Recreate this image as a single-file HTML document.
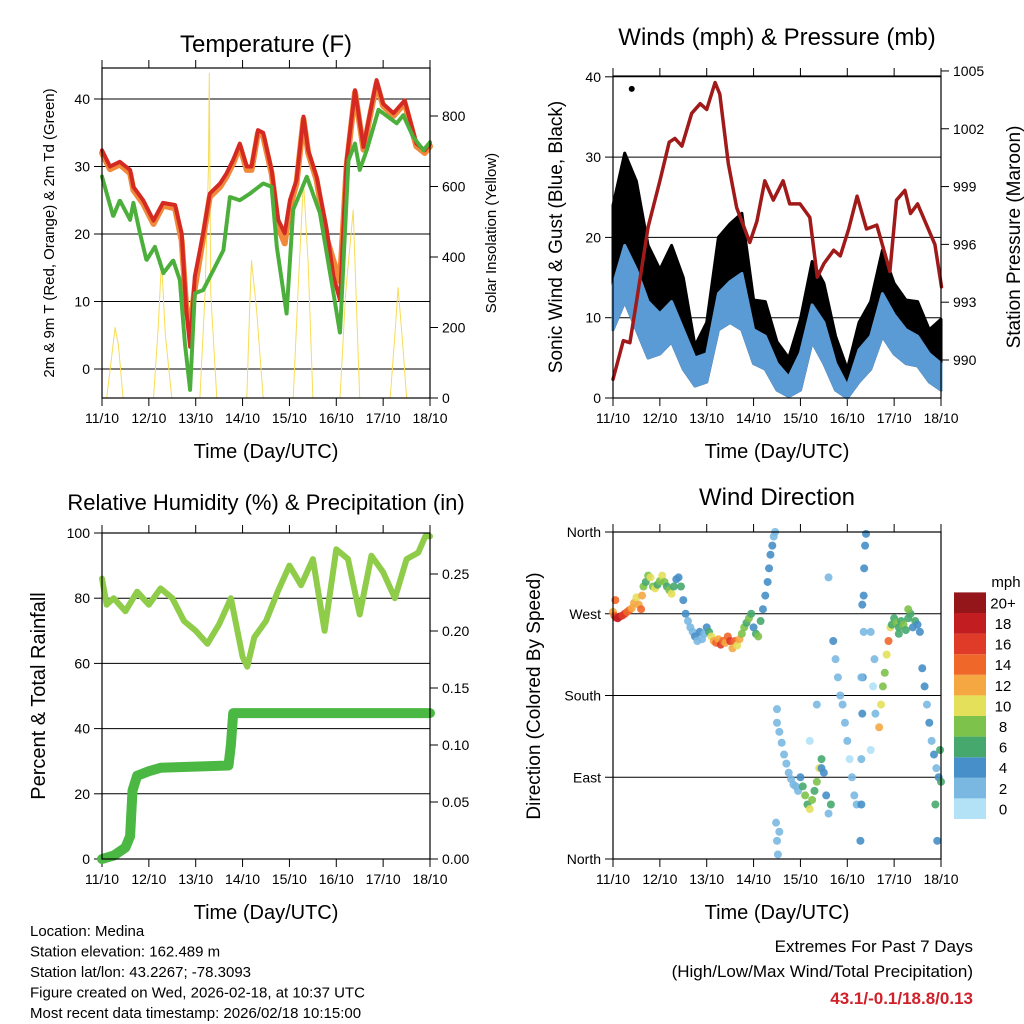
<!DOCTYPE html>
<html><head><meta charset="utf-8"><style>
body{margin:0;background:#fff}
svg{display:block;font-family:"Liberation Sans",sans-serif}
</style></head><body>
<svg id="s" width="1024" height="1024" viewBox="0 0 1024 1024" xmlns="http://www.w3.org/2000/svg"></svg>
<script>
// ---------- DATA ----------
const dayLabels=["11/10","12/10","13/10","14/10","15/10","16/10","17/10","18/10"];
const tempT=[0,0.17,0.38,0.6,0.67,0.88,1.1,1.3,1.56,1.7,1.8,1.88,1.98,2.16,2.3,2.52,2.66,2.8,2.94,3.09,3.19,3.33,3.44,3.62,3.76,3.9,4.01,4.15,4.3,4.4,4.58,4.79,4.94,5.08,5.22,5.4,5.58,5.72,5.86,6.0,6.22,6.46,6.71,6.89,7];
const redV=[32.4,30,30.7,29.5,27,25,22,24.6,24.3,20.1,8.7,3.3,13.7,20.1,26,27.5,29,31,33.4,30,30,35.4,35,29.5,22.1,20.1,25,28,37.4,32.4,28.5,21,13.7,10.2,30.9,41.3,32.9,37.9,42.8,39.3,37.9,39.8,33.4,32.4,33.4];
const orangeV=[32,29.6,30.3,29,26.5,24.5,21.5,24.2,23.8,19,9,6,12,19.5,25.5,27,28.5,30.5,33,29.5,29.5,35,34.5,29,21,18.6,24,27.5,37,32,28,19.5,16,13,30,41,32.5,37.5,42.3,39,37.5,39.4,33,32,33];
const dewT=[0,0.24,0.38,0.6,0.67,0.81,0.95,1.13,1.31,1.52,1.66,1.77,1.88,1.98,2.16,2.38,2.59,2.73,2.94,3.16,3.44,3.62,3.73,3.94,4.08,4.37,4.65,4.94,5.08,5.26,5.4,5.5,5.65,5.9,6.29,6.43,6.64,6.86,7];
const dewV=[28.5,22.6,25,22.1,24.6,20.1,16.1,18.1,14.2,16.1,13.2,3.8,-3.1,11.2,11.7,14.7,17.6,25.5,25,26,27.5,27,18.1,8.2,23.6,28.5,23.1,11.2,5.3,30.9,33.4,29.5,32.4,38.4,36.4,37.6,34.4,32.4,33.6];
const solarT=[0,0.1,0.2,0.28,0.35,0.45,1.1,1.2,1.27,1.35,1.49,2.09,2.2,2.27,2.29,2.32,2.45,3.09,3.15,3.19,3.3,3.44,4.08,4.2,4.3,4.4,4.5,5.08,5.2,5.36,5.42,5.5,6.15,6.25,6.32,6.42,6.5,7];
const solarV=[0,0,110,200,150,0,0,200,390,180,0,0,300,650,921,300,0,0,250,390,250,0,0,350,615,380,0,0,300,533,300,0,0,180,313,150,0,0];
const windT=[0,0.25,0.5,0.75,1.0,1.25,1.5,1.75,2.0,2.25,2.5,2.75,3.0,3.25,3.5,3.75,4.0,4.25,4.5,4.75,5.0,5.25,5.5,5.75,6.0,6.25,6.5,6.75,7];
const gustHi=[24,30.5,27,19,16,19,15,6.5,9.4,20,21.7,23,12.2,12,7,5,9.8,17,14.3,7.7,3.6,9.4,12,18.4,14.3,12.2,12,8.5,9.8];
const sustHi=[14,19,16,12,10.5,12,8.5,5,5.5,13,14.5,15.5,8.5,7.7,4.3,2.6,5.6,11.6,9.4,4.3,1.5,6,7.7,13,10.4,8.5,7.7,5.5,4.3];
const sustLo=[8.5,12,8.5,5,5.5,7,3.6,1.5,2,8.5,9.4,8.5,4.3,3.6,1,0.2,1,7,4.3,1,0,2,3.6,7.7,5.5,4.3,4,2,1];
const presT=[0,0.22,0.36,0.5,0.75,1.0,1.2,1.32,1.47,1.68,1.86,2.0,2.18,2.28,2.46,2.64,2.92,3.07,3.24,3.42,3.63,3.77,3.99,4.2,4.36,4.5,4.71,4.85,5.03,5.21,5.41,5.63,5.91,6.05,6.23,6.35,6.5,6.87,7.01];
const presV=[989,991,990.9,993,996.9,999.3,1001.3,1001.5,1001.1,1002.8,1003.3,1003,1004.4,1003.8,1000.2,997.9,996.1,997.2,999.3,998.3,999.3,998.1,998.1,997.4,994.3,995,995.7,995.4,996.8,998.5,996.8,997,994.6,998.3,998.8,997.6,998.1,996,993.8];
const rhT=[0,0.1,0.25,0.5,0.75,1.0,1.25,1.5,1.75,2.0,2.25,2.5,2.75,3.0,3.1,3.25,3.5,3.75,4.0,4.25,4.5,4.75,5.0,5.25,5.5,5.75,6.0,6.25,6.5,6.75,6.9,7];
const rhV=[86,78,80,76,82,78,83,80,73,70,66,72,80,62,59,68,73,82,90,84,92,70,95,92,75,93,88,80,92,94,99,99];
const rainT=[0,0.25,0.5,0.6,0.65,0.75,1.0,1.25,2.7,2.75,2.8,7];
const rainV=[0,0.003,0.01,0.02,0.06,0.073,0.077,0.08,0.082,0.1,0.128,0.128];
const dirT=[0,0.03,0.06,0.1,0.15,0.2,0.25,0.3,0.35,0.4,0.45,0.5,0.55,0.6,0.05,
0.65,0.7,0.75,0.8,0.85,0.9,0.95,1.0,1.05,1.1,1.15,1.2,1.25,1.3,1.35,1.4,1.45,1.5,1.55,1.6,0.62,
1.65,1.7,1.75,1.8,1.85,1.9,1.95,2.0,2.05,
2.1,2.15,2.2,2.25,2.3,2.35,2.4,2.45,2.5,2.55,2.6,2.65,2.7,2.75,2.8,
2.85,2.9,2.95,3.0,3.05,3.1,3.15,3.2,3.25,3.3,3.33,3.36,3.4,3.43,3.46,3.5,
3.5,3.55,3.6,3.65,3.7,3.75,3.8,3.85,3.9,3.95,3.48,3.5,3.52,3.55,
4.0,4.05,4.1,4.15,4.2,4.25,4.3,4.35,4.4,4.45,4.5,4.55,4.6,4.65,
4.7,4.75,4.8,4.85,4.9,4.95,5.0,5.05,5.1,5.15,5.2,4.2,4.35,4.6,4.45,
5.28,5.3,5.3,5.32,5.33,5.35,5.35,5.36,5.38,5.4,5.3,5.32,
5.5,5.55,5.6,5.5,5.58,
5.68,5.72,5.76,5.8,5.84,5.88,5.92,
5.95,6.0,6.05,6.1,6.15,6.2,6.25,6.3,6.35,6.4,6.45,6.5,6.55,6.3,6.1,
6.6,6.65,6.7,6.75,6.8,6.85,6.9,6.95,7.0,6.88,6.92,6.98];
const dirV=[272,268,266,265,267,268,270,272,274,276,282,288,280,275,285,
300,305,312,310,300,298,302,306,312,305,300,296,292,300,308,310,300,285,270,262,290,
255,250,245,240,250,242,248,255,250,
245,240,238,242,236,240,238,245,240,232,240,235,242,248,255,
260,265,270,255,248,245,262,275,290,305,320,335,345,355,360,165,
150,140,128,115,105,95,88,82,80,75,40,20,5,30,
90,80,70,60,55,65,75,85,100,110,95,70,50,60,
240,220,200,180,170,150,130,110,90,70,60,130,170,310,100,
20,60,110,160,200,250,290,320,345,358,200,280,
250,190,160,120,220,
145,170,190,205,225,240,255,
258,265,260,255,262,258,252,265,270,255,262,258,250,275,248,
210,190,170,150,130,115,100,90,85,60,20,120];
const dirS=[12,14,16,18,18,16,16,14,14,12,12,10,12,14,14,
8,6,8,10,8,10,6,8,10,8,6,8,10,6,4,4,6,4,4,2,12,
2,2,4,2,4,2,2,4,6,
10,12,14,12,16,14,12,14,16,12,14,10,12,8,8,
6,8,6,4,6,8,6,4,4,4,4,4,4,2,2,2,
2,2,2,2,2,2,2,2,2,2,2,2,2,2,
4,6,8,6,10,8,6,8,10,6,4,4,2,6,
4,2,2,2,2,2,2,0,2,2,2,0,2,2,4,
4,4,2,4,4,2,4,4,4,4,2,4,
2,0,2,0,2,
12,10,8,8,10,14,10,
6,6,8,6,6,8,6,6,6,4,6,4,4,8,6,
4,4,2,4,2,4,2,4,6,6,4,6];
const cbLabels=["0","2","4","6","8","10","12","14","16","18","20+"];
const cbColors=["#b3e2f7","#7ab8e2","#478fc8","#47a86e","#7dc24b","#e4e05a","#f5a742","#f0672a","#e03a28","#c21e22","#94151a"];
// ---------- RENDER ----------
const S=document.getElementById('s');const NS="http://www.w3.org/2000/svg";
function el(t,a,p){const e=document.createElementNS(NS,t);for(const k in a)e.setAttribute(k,a[k]);(p||S).appendChild(e);return e;}
function txt(x,y,s,size,anchor,rot,extra){const a={x:x,y:y,'font-size':size,'text-anchor':anchor||'middle',fill:'#000'};if(rot)a.transform=`rotate(${rot} ${x} ${y})`;Object.assign(a,extra||{});const e=el('text',a);e.textContent=s;return e;}
function panel(P,name,yticks,yfun,ylabels,gridVals){
  const g=el('g',{});
  
  
  const xs=d=>P.x0+(P.x1-P.x0)*d/7;
  gridVals.forEach(v=>{el('line',{x1:P.x0,x2:P.x1,y1:yfun(v),y2:yfun(v),stroke:'#000','stroke-width':1},g);});
  for(let i=0;i<=7;i++){const x=xs(i);el('line',{x1:x,x2:x,y1:P.y1,y2:P.y1+8,stroke:'#000'},g);el('line',{x1:x,x2:x,y1:P.y0,y2:P.y0-8,stroke:'#000'},g);
    const t=txt(x,P.y1+25,dayLabels[i],14);}
  yticks.forEach((v,i)=>{const y=yfun(v);el('line',{x1:P.x0-8,x2:P.x0,y1:y,y2:y,stroke:'#000'},g);
    const t=txt(P.x0-12,y+5,ylabels[i],14,'end');});
  return {g,xs};
}
function frame(P){const f=el('rect',{x:P.x0,y:P.y0,width:P.x1-P.x0,height:P.y1-P.y0,fill:'none',stroke:'#000','stroke-width':1.2});}
function line(T,V,xs,ys,color,w,name,dash){const d=T.map((t,i)=>(i?'L':'M')+xs(t).toFixed(1)+','+ys(V[i]).toFixed(1)).join('');const a={d:d,fill:'none',stroke:color,'stroke-width':w,'stroke-linejoin':'round','stroke-linecap':'round'};if(dash)a['stroke-dasharray']=dash;const p=el('path',a);return p;}
function band(T,hi,lo,xs,ys,color,name){const up=T.map((t,i)=>xs(t).toFixed(1)+','+ys(hi[i]).toFixed(1));const dn=T.map((t,i)=>xs(t).toFixed(1)+','+ys(lo[i]).toFixed(1)).reverse();const p=el('polygon',{points:up.concat(dn).join(' '),fill:color,stroke:color,'stroke-width':3,'stroke-linejoin':'round'});return p;}
function rightTicks(P,vals,yf,labels){vals.forEach((v,i)=>{const y=yf(v);el('line',{x1:P.x1,x2:P.x1+8,y1:y,y2:y,stroke:'#000'});const t=txt(P.x1+12,y+5,labels[i],14,'start');});}

// Panel 1 Temperature
const P1={x0:102,x1:430,y0:68,y1:398};
const ty=v=>369-6.75*v, sy=v=>398-0.3525*v;
const a1=panel(P1,'temperature-panel',[0,10,20,30,40],ty,["0","10","20","30","40"],[0,10,20,30,40]);
line(solarT,solarV,a1.xs,sy,'#f7dc55',1,'solar-insolation-line');
line(tempT,orangeV,a1.xs,ty,'#f08a3a',6,'temp-9m-line');
line(tempT,redV,a1.xs,ty,'#d42a22',4,'temp-2m-line');
line(dewT,dewV,a1.xs,ty,'#4caf3c',4,'dewpoint-line','2 1.5');
rightTicks(P1,[0,200,400,600,800],sy,["0","200","400","600","800"]);
frame(P1);
txt(266,52,'Temperature (F)',24);
txt(266,458,'Time (Day/UTC)',20);
txt(54,233,'2m & 9m T (Red, Orange) & 2m Td (Green)',15,'middle',-90);
txt(496,233,'Solar Insolation (Yellow)',15,'middle',-90);

// Panel 2 Winds
const P2={x0:613,x1:941,y0:76,y1:398};
const wy=v=>398-8.03*v, py=v=>360-(v-990)*19.27;
const a2=panel(P2,'winds-panel',[0,10,20,30,40],wy,["0","10","20","30","40"],[10,20,30,40]);
band(windT,gustHi,sustLo,a2.xs,wy,'#000','gust-band');
band(windT,sustHi,sustLo,a2.xs,wy,'#5a9bd5','sonic-wind-band');
const od=el('circle',{cx:a2.xs(0.4),cy:wy(38.5),r:3,fill:'#000'});
line(presT,presV,a2.xs,py,'#a01a1a',3.5,'pressure-line');
rightTicks(P2,[990,993,996,999,1002,1005],py,["990","993","996","999","1002","1005"]);
frame(P2);
txt(777,45,'Winds (mph) & Pressure (mb)',24);
txt(777,458,'Time (Day/UTC)',20);
txt(562,237,'Sonic Wind & Gust (Blue, Black)',19,'middle',-90);
txt(1020,237,'Station Pressure (Maroon)',19,'middle',-90);

// Panel 3 RH
const P3={x0:102,x1:430,y0:533,y1:859};
const hy=v=>859-3.26*v, ry=v=>859-1140*v;
const a3=panel(P3,'humidity-panel',[0,20,40,60,80,100],hy,["0","20","40","60","80","100"],[20,40,60,80]);
line(rhT,rhV,a3.xs,hy,'#8fcc4a',6,'humidity-line');
line(rainT,rainV,a3.xs,ry,'#4cb844',10,'rainfall-line');
rightTicks(P3,[0,0.05,0.1,0.15,0.2,0.25],ry,["0.00","0.05","0.10","0.15","0.20","0.25"]);
frame(P3);
txt(266,510,'Relative Humidity (%) & Precipitation (in)',22);
txt(266,919,'Time (Day/UTC)',20);
txt(45,696,'Percent & Total Rainfall',20,'middle',-90);

// Panel 4 Direction
const P4={x0:613,x1:941,y0:532,y1:859};
const dy=v=>859-0.9083*v;
const a4=panel(P4,'wind-direction-panel',[0,90,180,270,360],dy,["North","East","South","West","North"],[90,180,270]);
const col=s=>cbColors[Math.min(10,Math.round(s/2))];
dirT.forEach((t,i)=>{const c=el('circle',{cx:a4.xs(t),cy:dy(dirV[i]),r:4,fill:col(dirS[i]),opacity:0.9});
  
  });
frame(P4);
txt(777,505,'Wind Direction',24);
txt(777,919,'Time (Day/UTC)',20);
txt(540,696,'Direction (Colored By Speed)',19,'middle',-90);
// colorbar
txt(1006,587,'mph',15);
cbColors.forEach((c,i)=>{const y=819-(i+1)*20.6;const r=el('rect',{x:954,y:y,width:32,height:20.6,fill:c});
  
  
  const t=txt(1003,y+16,cbLabels[i],15);});

// Footer text
["Location: Medina","Station elevation: 162.489 m","Station lat/lon: 43.2267; -78.3093","Figure created on Wed, 2026-02-18, at 10:37 UTC","Most recent data timestamp: 2026/02/18 10:15:00"].forEach((s,i)=>{
  const t=txt(30,936+i*20.5,s,15,'start');});
txt(973,952,'Extremes For Past 7 Days',17,'end');
txt(973,977,'(High/Low/Max Wind/Total Precipitation)',17,'end');
txt(973,1004,'43.1/-0.1/18.8/0.13',17,'end',0,{fill:'#d0202a','font-weight':'bold'});
</script>
</body></html>
